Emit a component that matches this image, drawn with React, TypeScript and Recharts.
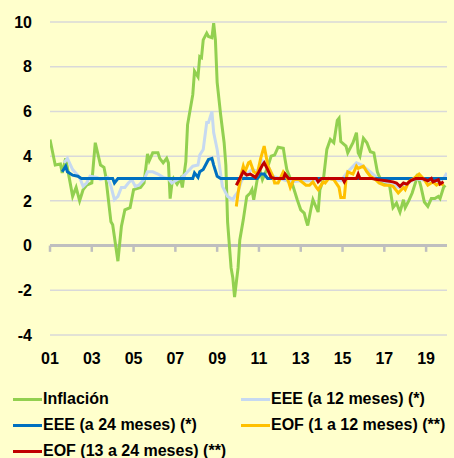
import React from 'react';
import { LineChart, Line, XAxis, YAxis, CartesianGrid, ReferenceLine, Legend } from 'recharts';

// month index from Jan 2001, value (%)
const inflacion: [number, number][] = [
  [0, 4.74], [3, 3.6], [6, 3.65], [7, 3.25], [9, 3.9], [13, 2.2], [15, 2.6], [17, 2.0], [19, 2.5],
  [21, 2.7], [24, 2.8], [26, 4.6], [29, 3.6], [31, 3.5], [32, 3.1], [35, 1.06], [36, 0.93], [39, -0.7],
  [41, 0.85], [43, 1.6], [46, 1.7], [48, 2.5], [52, 2.6], [54, 2.8], [56, 4.1], [57, 3.8], [59, 4.15],
  [62, 4.15], [63, 3.9], [65, 3.7], [67, 3.9], [68, 3.7], [69, 2.1], [70, 2.75], [71, 3.0], [73, 2.75],
  [75, 3.0], [76, 2.6], [78, 3.75], [79, 5.4], [82, 6.75], [83, 7.8], [85, 7.55], [86, 8.45], [87, 8.4],
  [88, 9.2], [90, 9.5], [91, 9.35], [93, 9.3], [94, 9.95], [95, 9.2], [96, 7.3], [98, 5.85], [100, 4.6],
  [101, 3.6], [102, 1.05], [104, -1.0], [105, -1.45], [106, -2.3], [108, -1.0], [109, 0.25], [111, 1.15],
  [113, 2.2], [115, 2.35], [116, 2.5], [117, 2.05], [119, 2.95], [121, 3.25], [122, 2.95], [125, 3.5],
  [127, 4.0], [129, 4.05], [131, 4.4], [134, 4.35], [135, 3.85], [136, 3.4], [139, 2.8], [142, 2.05],
  [144, 1.6], [146, 1.45], [147, 1.15], [148, 0.9], [150, 1.7], [151, 2.05], [154, 1.5], [155, 2.5],
  [157, 2.95], [159, 4.3], [161, 4.75], [163, 4.6], [165, 5.6], [166, 5.7], [167, 4.65], [170, 4.45],
  [171, 4.15], [174, 4.6], [176, 5.05], [177, 4.15], [178, 4.0], [180, 4.8], [182, 4.6], [184, 4.2],
  [186, 4.15], [188, 3.3], [189, 3.1], [191, 2.8], [195, 2.7], [197, 1.7], [199, 1.9], [201, 1.5],
  [203, 2.05], [204, 1.7], [206, 2.0], [208, 2.35], [210, 2.85], [211, 3.2], [213, 2.65], [215, 1.95],
  [217, 1.75], [219, 2.1], [221, 2.1], [223, 2.2], [224, 2.1], [226, 2.6], [227, 2.7],
];

const eee12: [number, number][] = [
  [8, 3.7], [10, 3.9], [13, 3.4], [17, 3.05], [19, 2.65], [21, 2.8], [23, 3.1], [27, 3.05], [29, 2.95],
  [33, 3.05], [35, 2.65], [37, 2.05], [39, 2.2], [41, 2.6], [43, 2.6], [45, 2.8], [47, 2.95], [49, 2.65],
  [51, 2.7], [54, 2.95], [56, 3.3], [59, 3.3], [62, 3.2], [65, 3.05], [68, 3.0], [70, 2.8], [73, 2.95],
  [76, 3.05], [79, 3.3], [82, 3.55], [85, 3.6], [86, 4.05], [88, 4.3], [90, 5.5], [91, 5.5], [93, 6.0],
  [94, 5.05], [96, 4.3], [99, 2.65], [102, 2.2], [105, 2.05], [106, 2.2], [108, 2.4], [110, 2.9],
  [113, 3.2], [116, 3.4], [120, 3.3], [122, 3.8], [125, 3.6], [128, 3.1], [132, 3.0], [138, 2.85],
  [144, 2.9], [150, 2.9], [155, 2.95], [161, 3.0], [167, 2.9], [171, 3.3], [176, 3.7], [179, 3.6],
  [184, 3.3], [189, 2.95], [195, 2.8], [200, 2.6], [204, 2.7], [210, 3.0], [216, 2.9], [222, 2.85],
  [226, 3.0], [228, 3.25],
];

const eee24: [number, number][] = [
  [7, 3.3], [9, 3.55], [10, 3.3], [13, 3.15], [16, 3.1], [18, 3.0], [36, 3.0], [37, 2.8], [39, 3.0],
  [82, 3.0], [83, 3.25], [85, 3.05], [86, 3.3], [88, 3.4], [91, 3.85], [93, 3.9], [94, 3.6], [96, 3.1],
  [98, 3.0], [119, 3.0], [121, 3.2], [123, 3.2], [125, 3.0], [228, 3.0],
];

const eof1a12: [number, number][] = [
  [107, 1.75], [108, 2.35], [110, 3.25], [111, 3.55], [112, 3.3], [114, 3.7], [115, 3.75], [117, 3.3],
  [119, 3.2], [121, 3.9], [123, 4.45], [124, 4.05], [125, 3.6], [128, 3.1], [129, 2.8], [131, 2.8],
  [134, 3.3], [135, 3.2], [137, 2.85], [138, 2.6], [140, 2.95], [143, 2.95], [147, 2.7], [149, 2.7],
  [151, 2.85], [153, 2.6], [154, 2.5], [157, 2.85], [158, 2.8], [160, 3.0], [163, 2.95], [166, 2.6],
  [167, 2.15], [169, 2.15], [170, 2.95], [171, 3.3], [174, 3.2], [176, 3.55], [177, 3.45], [180, 3.55],
  [182, 3.3], [184, 3.1], [187, 2.95], [189, 2.8], [192, 2.7], [195, 2.7], [197, 2.65], [200, 2.35],
  [203, 2.6], [204, 2.5], [206, 2.85], [209, 3.0], [212, 3.2], [215, 2.95], [217, 2.7], [220, 2.85],
  [222, 2.7], [224, 2.8], [226, 2.7],
];

const eof13a24: [number, number][] = [
  [107, 2.7], [109, 3.0], [111, 3.3], [113, 3.15], [115, 3.2], [118, 3.05], [120, 3.3], [122, 3.6],
  [123, 3.7], [125, 3.4], [127, 3.05], [129, 3.0], [134, 3.0], [135, 3.2], [137, 3.0], [153, 3.0],
  [154, 2.85], [156, 3.0], [168, 3.0], [169, 2.85], [170, 3.0], [176, 3.0], [177, 3.2], [178, 3.0],
  [185, 3.0], [188, 2.95], [193, 2.9], [197, 2.85], [199, 2.8], [201, 2.65], [203, 2.8], [205, 2.75],
  [207, 2.9], [210, 3.0], [214, 3.0], [217, 2.9], [219, 3.0], [220, 2.85], [223, 2.95], [224, 2.75],
  [226, 2.85],
];

const yTicks = [-4, -2, 0, 2, 4, 6, 8, 10];
const xTicks = [0, 24, 48, 72, 96, 120, 144, 168, 192, 216];
const xTickLabels = ['01', '03', '05', '07', '09', '11', '13', '15', '17', '19'];

const seriesNames = [
  'Inflación',
  'EEE (a 12 meses) (*)',
  'EEE (a 24 meses) (*)',
  'EOF (1 a 12 meses) (**)',
  'EOF (13 a 24 meses) (**)',
];
const seriesColors = ['#92D050', '#C6D9F1', '#0070C0', '#FFC000', '#C00000'];
const seriesData = [inflacion, eee12, eee24, eof1a12, eof13a24];

const FONT = '"Liberation Sans", Arial, sans-serif';

const toRows = (pairs: [number, number][]) => pairs.map(([t, v]) => ({ t, v }));

const LegendContent = (props: any) => {
  const payload = [...(props.payload || [])].sort(
    (a: any, b: any) => seriesNames.indexOf(a.value) - seriesNames.indexOf(b.value)
  );
  return (
    <div
      style={{
        display: 'grid',
        gridTemplateColumns: '228px 213px',
        paddingLeft: 13,
        fontFamily: FONT,
        fontWeight: 'bold',
        fontSize: 16,
        color: '#000',
      }}
    >
      {payload.map((p: any, i: number) => (
        <div key={i} style={{ display: 'flex', alignItems: 'center', height: 26, whiteSpace: 'nowrap' }}>
          <span style={{ display: 'inline-block', width: 29, height: 3, background: p.color, marginRight: 1 }} />
          <span>{p.value}</span>
        </div>
      ))}
    </div>
  );
};

export default function App() {
  return (
    <div style={{ position: 'absolute', left: 0, top: 0, width: 454, height: 458, background: '#FFFFCC' }}>
      <LineChart width={454} height={458} margin={{ top: 22, right: 7, left: 0, bottom: 93 }}>
        <CartesianGrid vertical={false} stroke="#D9D9D9" strokeWidth={1.5} />
        <XAxis
          type="number"
          dataKey="t"
          domain={[0, 228]}
          ticks={xTicks}
          allowDataOverflow
          tickFormatter={(t: number) => xTickLabels[xTicks.indexOf(t)] ?? ''}
          axisLine={false}
          tickLine={false}
          tickSize={0}
          tickMargin={18}
          height={30}
          interval={0}
          tick={{ fontFamily: FONT, fontWeight: 'bold', fontSize: 16, fill: '#000' }}
        />
        <YAxis
          type="number"
          domain={[-4, 10]}
          ticks={yTicks}
          interval={0}
          axisLine={false}
          tickLine={false}
          tickSize={0}
          tickMargin={18}
          width={50}
          tick={{ fontFamily: FONT, fontWeight: 'bold', fontSize: 16, fill: '#000' }}
        />
        <ReferenceLine y={0} stroke="#BFBFBF" strokeWidth={3} />
        {xTicks.map((t) => (
          <ReferenceLine
            key={'tk' + t}
            segment={[{ x: t, y: 0 }, { x: t, y: -0.28 }]}
            stroke="#BFBFBF"
            strokeWidth={2.5}
          />
        ))}
        {seriesData.map((d, i) => (
          <Line
            key={seriesNames[i]}
            data={toRows(d)}
            dataKey="v"
            name={seriesNames[i]}
            type="linear"
            stroke={seriesColors[i]}
            strokeWidth={3}
            dot={false}
            activeDot={false}
            isAnimationActive={false}
          />
        ))}
        <Legend
          layout="horizontal"
          verticalAlign="middle"
          align="center"
          wrapperStyle={{ top: 386, left: 0, width: 454 }}
          content={<LegendContent />}
        />
      </LineChart>
    </div>
  );
}
